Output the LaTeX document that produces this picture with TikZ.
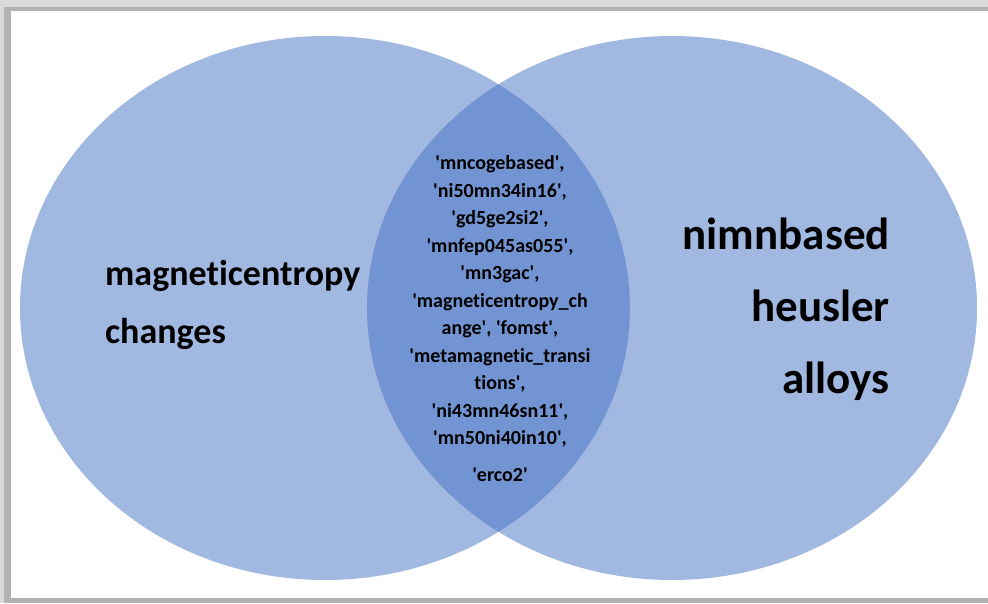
\documentclass[tikz,border=0pt]{standalone}
\usepackage{fontspec}
\newfontfamily\vennfont{Carlito}[Ligatures={TeXOff,CommonOff}]
\usepackage{xcolor}
\definecolor{vennblue}{HTML}{4472C4}
\definecolor{framelight}{HTML}{D9D9D9}
\definecolor{framedark}{HTML}{B2B2B2}

\begin{document}
\begin{tikzpicture}[x=1pt,y=-1pt,
		set shape/.style={fill=vennblue,fill opacity=0.5},
		set label/.style={inner sep=0pt,font=\vennfont\bfseries},
		member list/.style={inner sep=0pt,align=center,font=\vennfont\bfseries\fontsize{20}{27.5}\selectfont}]
		
		\useasboundingbox (0,0) rectangle (988,603);
		
		% frame with shadow
		\fill[framelight] (0,0) rectangle (988,603);
		\fill[framedark] (4,7) rectangle (988,603);
		\fill[white] (11,11) rectangle (988,598);
		
		% the two sets
		\fill[set shape] (325,308) ellipse [x radius=305,y radius=272];
		\fill[set shape] (672,308) ellipse [x radius=305,y radius=272];
		
		\node[set label,align=left,anchor=base west,font=\vennfont\bfseries\fontsize{36}{58}\selectfont] (left) at (105,343)
			{magneticentropy\\changes};
		\node[set label,align=right,anchor=base east,font=\vennfont\bfseries\fontsize{45}{72}\selectfont] (right) at (890,393)
			{nimnbased\\heusler\\alloys};
		
		\node[member list,anchor=base] (common) at (500,481)
			{'mncogebased',\\
			'ni50mn34in16',\\
			'gd5ge2si2',\\
			'mnfep045as055',\\
			'mn3gac',\\
			'magneticentropy\_ch\\
			ange', 'fomst',\\
			'metamagnetic\_transi\\
			tions',\\
			'ni43mn46sn11',\\
			'mn50ni40in10',\\[9pt]
			'erco2'};
		
\end{tikzpicture}
\end{document}
